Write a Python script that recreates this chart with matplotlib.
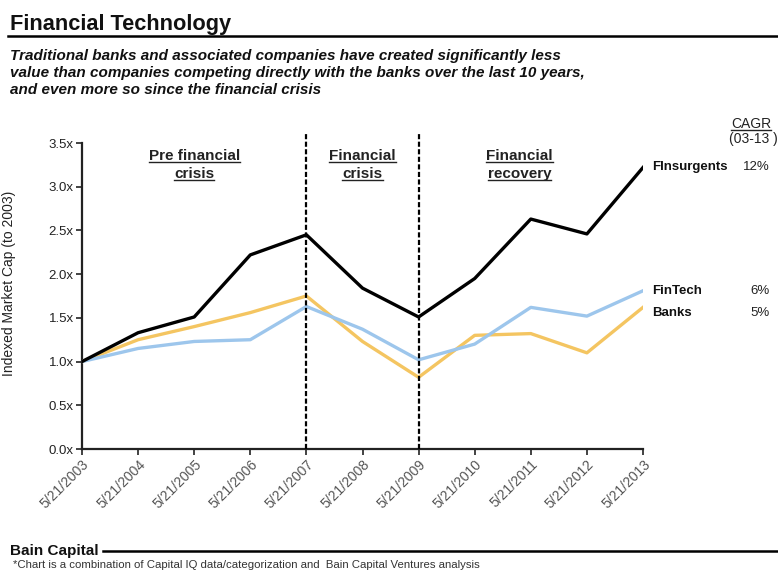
import matplotlib
matplotlib.use("Agg")
import matplotlib.pyplot as plt
from matplotlib.transforms import ScaledTranslation

# indexed market cap (2003 = 1.0x)
years = ["5/21/2003", "5/21/2004", "5/21/2005", "5/21/2006", "5/21/2007", "5/21/2008",
         "5/21/2009", "5/21/2010", "5/21/2011", "5/21/2012", "5/21/2013"]
finsurgents = [1.00, 1.33, 1.51, 2.22, 2.45, 1.84, 1.51, 1.95, 2.63, 2.46, 3.22]
fintech = [1.00, 1.15, 1.23, 1.25, 1.63, 1.37, 1.02, 1.20, 1.62, 1.52, 1.81]
banks = [1.00, 1.25, 1.40, 1.56, 1.75, 1.23, 0.82, 1.30, 1.32, 1.10, 1.62]

series_names = ["FInsurgents", "FinTech", "Banks"]
cagr = ["12%", "6%", "5%"]
yticks = [0.0, 0.5, 1.0, 1.5, 2.0, 2.5, 3.0, 3.5]
periods = [("Pre financial", "crisis", 2.0), ("Financial", "crisis", 5.0), ("Financial", "recovery", 7.8)]
dividers = [4, 6]

plt.rcParams["font.family"] = ["Liberation Sans", "DejaVu Sans"]

W, H = 778, 572
fig = plt.figure(figsize=(W / 100, H / 100), dpi=100)
ax = fig.add_axes([82 / W, 1 - 449 / H, 561 / W, 306 / H])


def px(x, y):
    return x / W, 1 - y / H


x = list(range(len(years)))
ax.plot(x, banks, color="#F4C561", lw=2.4, zorder=3)
ax.plot(x, fintech, color="#9DC6EC", lw=2.4, zorder=3)
ax.plot(x, finsurgents, color="#000000", lw=2.4, zorder=4)

for d in dividers:
    ax.plot([d, d], [0, 3.6], color="black", lw=1.6, ls=(0, (2.3, 1.1)), clip_on=False, zorder=5)

ax.set_xlim(0, 10)
ax.set_ylim(0, 3.5)
ax.set_xticks(x)
ax.set_xticklabels(years, rotation=45, ha="right", va="top", rotation_mode="anchor",
                   fontsize=10, color="#555555")
shift = ScaledTranslation(4 / 100, 0, fig.dpi_scale_trans)
for lab in ax.get_xticklabels():
    lab.set_transform(lab.get_transform() + shift)
ax.set_yticks(yticks)
ax.set_yticklabels([f"{v:.1f}x" for v in yticks], fontsize=9.5, color="#222222")
for s in ["top", "right"]:
    ax.spines[s].set_visible(False)
for s in ["left", "bottom"]:
    ax.spines[s].set_linewidth(1.6)
    ax.spines[s].set_color("#222222")
ax.tick_params(axis="both", direction="out", length=4, width=1.2, color="#222222", pad=2)
ax.set_ylabel("Indexed Market Cap (to 2003)", fontsize=10, color="#222222")
ax.yaxis.set_label_coords(-0.117, 0.54)

underlined = []
for top, bottom, xc in periods:
    underlined.append(ax.text(xc, 3.31, top, ha="center", va="baseline", fontsize=11,
                              fontweight="bold", color="#222222"))
    underlined.append(ax.text(xc, 3.10, bottom, ha="center", va="baseline", fontsize=11,
                              fontweight="bold", color="#222222"))

# series labels and CAGR column on the right
label_y = [finsurgents[-1], 1.81, 1.56]
for name, rate, yy in zip(series_names, cagr, label_y):
    ax.text(10.17, yy, name, ha="left", va="center", fontsize=9.5, fontweight="bold",
            color="#111111", clip_on=False)
    ax.text(12.25, yy, rate, ha="right", va="center", fontsize=9.5, color="#222222", clip_on=False)

underlined.append(fig.text(*px(751, 128), "CAGR", ha="center", va="baseline", fontsize=10,
                           color="#222222"))
fig.text(*px(753, 143), "(03-13 )", ha="center", va="baseline", fontsize=10, color="#222222")

# header
fig.text(*px(10, 30), "Financial Technology", fontsize=15.7, fontweight="bold",
         color="#111111", va="baseline")
fig.add_artist(plt.Line2D([8 / W, 1], [1 - 35.5 / H] * 2, color="black", lw=1.8))
subtitle = ["Traditional banks and associated companies have created significantly less",
            "value than companies competing directly with the banks over the last 10 years,",
            "and even more so since the financial crisis"]
for i, line in enumerate(subtitle):
    fig.text(*px(10, 60 + 17 * i), line, fontsize=11, fontweight="bold", style="italic",
             color="#111111", va="baseline")

# footer
bain = fig.text(*px(10, 555), "Bain Capital", fontsize=11, fontweight="bold",
                color="#111111", va="baseline")
fig.text(*px(13, 568), "*Chart is a combination of Capital IQ data/categorization and  "
         "Bain Capital Ventures analysis", fontsize=8.2, color="#333333", va="baseline")

fig.canvas.draw()
r = fig.canvas.get_renderer()
for t in underlined:
    bb = t.get_window_extent(r)
    y0 = bb.y0 + 1
    fig.add_artist(plt.Line2D([bb.x0 / W, bb.x1 / W], [y0 / H, y0 / H], color="#222222", lw=1.0))
bb = bain.get_window_extent(r)
fig.add_artist(plt.Line2D([(bb.x1 + 4) / W, 1], [1 - 550.5 / H] * 2, color="black", lw=1.8))

fig.savefig("out.png", dpi=100)
